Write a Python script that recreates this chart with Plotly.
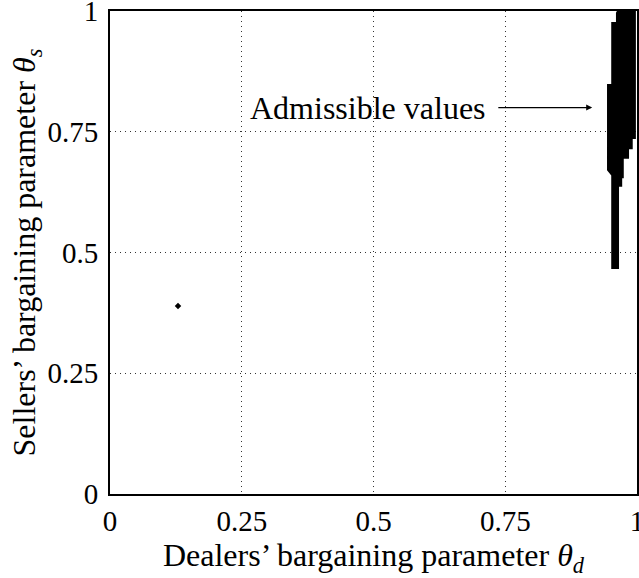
import plotly.graph_objects as go

# Admissible region boundary (theta_d, theta_s)
region_x = [0.964, 0.996, 0.996, 0.990, 0.990, 0.983, 0.983, 0.973, 0.973, 0.970, 0.970,
            0.964, 0.964, 0.953, 0.953, 0.953, 0.945, 0.945, 0.953, 0.953, 0.962, 0.962, 0.964]
region_y = [1.000, 1.000, 0.737, 0.737, 0.716, 0.716, 0.696, 0.696, 0.656, 0.656, 0.638,
            0.638, 0.468, 0.468, 0.638, 0.660, 0.671, 0.847, 0.847, 0.975, 0.975, 0.996, 1.000]

# Isolated admissible point
point_x = [0.129]
point_y = [0.389]

tick_vals = [0, 0.25, 0.5, 0.75, 1]
tick_text = ["0", "0.25", "0.5", "0.75", "1"]

FONT = "Liberation Serif"
FS = 29
FT = 32

fig = go.Figure()
fig.add_trace(go.Scatter(x=region_x, y=region_y, mode="lines", fill="toself",
                         fillcolor="black", line=dict(color="black", width=2),
                         hoverinfo="skip", showlegend=False))
fig.add_trace(go.Scatter(x=point_x, y=point_y, mode="markers",
                         marker=dict(color="black", size=5, symbol="diamond"),
                         showlegend=False))

fig.add_annotation(x=0.49, y=0.80, xref="x", yref="y", text="Admissible values",
                   showarrow=False, font=dict(family=FONT, size=FT, color="black"))
fig.add_annotation(x=0.915, y=0.80, ax=0.734, ay=0.80, xref="x", yref="y",
                   axref="x", ayref="y", text="", showarrow=True,
                   arrowhead=2, arrowsize=1, arrowwidth=1.2, arrowcolor="black")

axis_common = dict(range=[0, 1], tickvals=tick_vals, ticktext=tick_text,
                   showline=True, linewidth=2, linecolor="black", mirror=True,
                   showgrid=True, gridcolor="rgba(0,0,0,0.8)", griddash="1px,4px", gridwidth=1,
                   zeroline=False, ticks="", ticklabeloverflow="allow", automargin=False,
                   tickfont=dict(family=FONT, size=FS, color="black"))

fig.update_xaxes(**axis_common,
                 title=dict(text="Dealers’ bargaining parameter <i>θ</i><sub><i>d</i></sub>",
                            font=dict(family=FONT, size=FT, color="black"), standoff=2))
fig.update_yaxes(**axis_common, ticklabelstandoff=4,
                 title=dict(text="Sellers’ bargaining parameter <i>θ</i><sub><i>s</i></sub>",
                            font=dict(family=FONT, size=FT, color="black"), standoff=2))

fig.update_layout(width=639, height=578,
                  margin=dict(l=110, r=2, t=11, b=84, autoexpand=False),
                  plot_bgcolor="white", paper_bgcolor="white")

fig.write_html("out.html")
